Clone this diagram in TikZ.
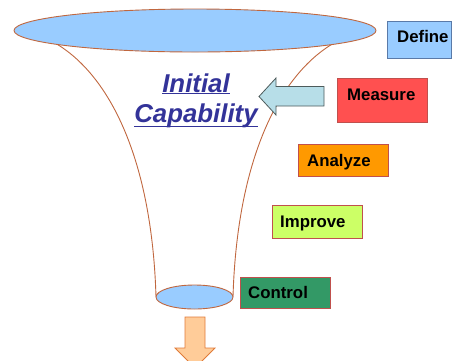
\documentclass[tikz,border=0pt]{standalone}
\usepackage{fontspec}
\setmainfont{Liberation Sans}
\begin{document}
\begin{tikzpicture}[x=1pt,y=-1pt,
  funnel/.style={draw=funnelline,line width=0.9pt},
  phase/.style={draw=#1,line width=1pt},
  phaselabel/.style={anchor=base west,inner sep=0pt,font=\fontsize{16.8}{19}\selectfont\bfseries},
  title/.style={anchor=base,inner sep=0pt,text=titleblue,font=\fontsize{25.8}{28}\selectfont\bfseries\itshape}]
\definecolor{funnelline}{HTML}{C0673F}
\definecolor{mouth}{HTML}{99CCFF}
\definecolor{titleblue}{HTML}{333399}
\definecolor{boxred}{HTML}{C0504D}
\definecolor{boxblue}{HTML}{5A7AA8}
\definecolor{arrowcyan}{HTML}{B7DEE8}
\definecolor{arrowedge}{HTML}{4D5B5B}
\definecolor{outfill}{HTML}{FFCC99}
\definecolor{outedge}{HTML}{E07B39}
\useasboundingbox (0,0) rectangle (453,360);

% funnel walls
\draw[funnel] (55,43) .. controls (110,75) and (152,160) .. (156,297);
\draw[funnel] (334,43) .. controls (279,75) and (237,160) .. (233,297);
% funnel mouths
\draw[funnel,fill=mouth] (195,30.5) ellipse [x radius=181, y radius=21.5];
\draw[funnel,fill=mouth] (194.5,297) ellipse [x radius=38.5, y radius=12];

% title
\node[title] (ini) at (196,92) {Initial};
\node[title] (cap) at (196,122) {Capability};
\draw[titleblue,line width=1pt] ([yshift=-1.5pt]ini.base west) -- ([yshift=-1.5pt]ini.base east);
\draw[titleblue,line width=1pt] ([yshift=-4pt]cap.base west) -- ([yshift=-4pt]cap.base east);

% arrow pointing into the funnel
\draw[fill=arrowcyan,draw=arrowedge,line width=0.8pt,line join=miter]
  (259,96.5) -- (276,78) -- (276,86.5) -- (324,86.5) -- (324,106) -- (276,106) -- (276,115) -- cycle;

% outlet arrow
\draw[fill=outfill,draw=outedge,line width=0.8pt]
  (185,317) -- (205,317) -- (205,348) -- (215,348) -- (195,368) -- (175,348) -- (185,348) -- cycle;

% phase boxes
\draw[phase=boxblue,fill=mouth] (387,21) rectangle (451,58);
\node[phaselabel] (define) at (397,42) {Define};
\draw[phase=boxred,fill={rgb,255:red,255;green,80;blue,80}] (337,78) rectangle (427,122);
\node[phaselabel] (measure) at (347,100) {Measure};
\draw[phase=boxred,fill={rgb,255:red,255;green,153;blue,0}] (298,144) rectangle (388,176);
\node[phaselabel] (analyze) at (307,166) {Analyze};
\draw[phase=boxred,fill={rgb,255:red,204;green,255;blue,102}] (272,205) rectangle (362,238);
\node[phaselabel] (improve) at (280,227) {Improve};
\draw[phase=boxred,fill={rgb,255:red,51;green,153;blue,102}] (240,277) rectangle (330,308);
\node[phaselabel] (control) at (248,298) {Control};
\end{tikzpicture}
\end{document}
